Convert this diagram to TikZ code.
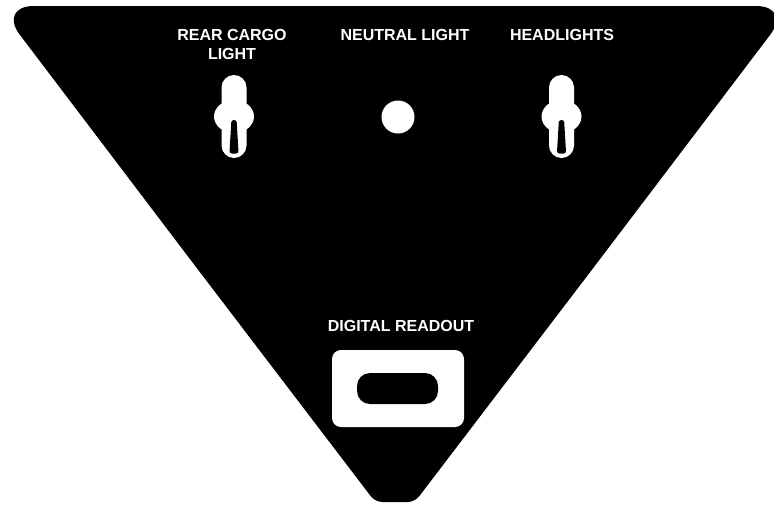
\documentclass[tikz,border=0pt]{standalone}
\usepackage{fontspec}
\setmainfont{Liberation Sans}
\usepackage{tikz}
\usetikzlibrary{positioning, calc}

\begin{document}
\begin{tikzpicture}[
    x=1pt, y=-1pt,
    platetext/.style={font=\fontsize{16}{19}\selectfont\bfseries, text=white, inner sep=0pt, anchor=north, align=center},
    toggle/.pic={
        \fill[white, rounded corners=12.5pt] (-12.5,75) rectangle (12.5,158);
        \fill[white] (0,116.5) ellipse [x radius=20, y radius=16.5];
        \fill[black, rounded corners=2.4pt] (-2.6,120) -- (2.6,120) -- (4.6,153.5) -- (-4.6,153.5) -- cycle;
    },
]
\useasboundingbox (0,0) rectangle (774,504);

% Panel
\fill[black] (395,6) [rounded corners=36pt] -- (792,6) -- (594,267) [rounded corners=7pt] -- (414.8,502) -- (375.2,502) -- (196,267) [rounded corners=36pt] -- (-2,6) -- cycle;

% Rear cargo light
\node[platetext] (rearlbl) at (232,29) {REAR CARGO\\LIGHT};
\pic at (234,0) {toggle};

% Neutral light
\node[platetext] (neutrallbl) at (405,29) {NEUTRAL LIGHT};
\fill[white] (398,117) circle [radius=16.5];

% Headlights
\node[platetext] (headlbl) at (562,29) {HEADLIGHTS};
\pic at (561.5,0) {toggle};

% Digital readout
\node[platetext] (readoutlbl) at (401,320.5) {DIGITAL READOUT};
\fill[white, rounded corners=9pt] (332,350) rectangle (464,427);
\fill[black, rounded corners=13pt] (357,373) rectangle (438,404);

\end{tikzpicture}
\end{document}
